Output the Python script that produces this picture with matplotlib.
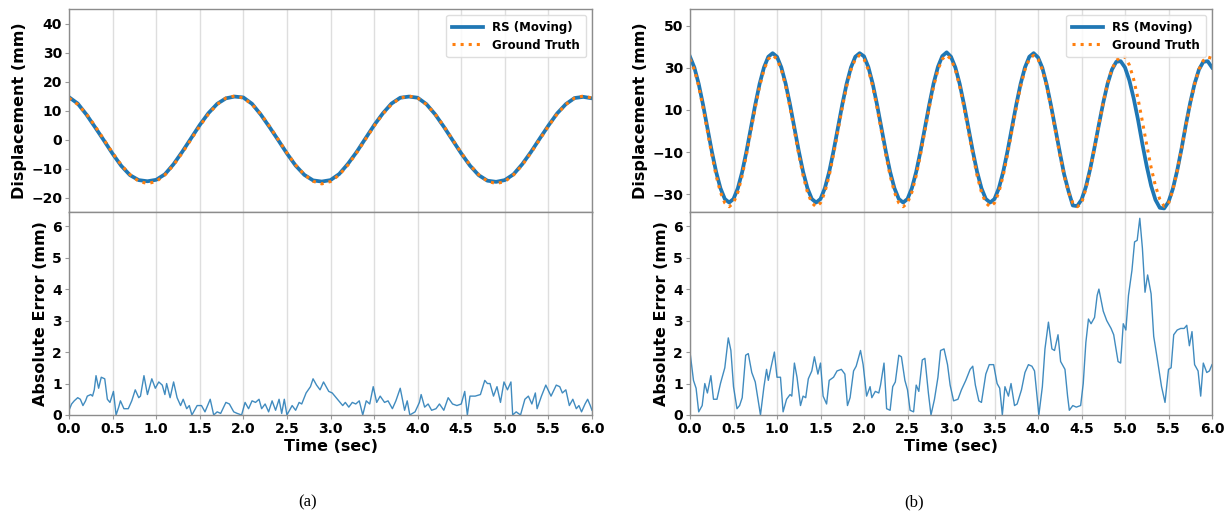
import numpy as np
import matplotlib
matplotlib.use("Agg")
import matplotlib.pyplot as plt

plt.rcParams['font.family'] = ['DejaVu Sans']
plt.rcParams['font.weight'] = 'bold'
plt.rcParams['axes.labelweight'] = 'bold'

# ---------------- data (a) ----------------
time_a = np.round(np.arange(0, 6.0001, 0.1), 2)
gt_a = [14.3, 12.1, 8.8, 4.6, 0.0, -4.6, -8.8, -12.1, -14.4, -15.2,
        -14.5, -12.2, -8.8, -4.6, 0.0, 4.6, 8.8, 12.1, 14.3, 15.0,
        14.3, 12.1, 8.8, 4.6, 0.0, -4.6, -8.8, -12.1, -14.4, -15.3,
        -14.5, -12.2, -8.8, -4.6, 0.0, 4.6, 8.8, 12.1, 14.3, 15.0,
        14.3, 12.1, 8.8, 4.6, 0.0, -4.6, -8.8, -12.1, -14.4, -15.2,
        -14.5, -12.2, -8.8, -4.6, 0.0, 4.6, 8.8, 12.1, 14.3, 15.0, 14.3]
rs_a = [14.6, 12.4, 8.6, 4.2, -0.3, -4.9, -9.1, -12.3, -14.0, -14.4,
        -13.9, -12.0, -8.5, -4.2, 0.4, 5.0, 9.1, 12.3, 14.2, 14.8,
        14.5, 12.3, 8.6, 4.3, -0.2, -4.8, -9.0, -12.2, -14.1, -14.5,
        -14.0, -11.9, -8.4, -4.3, 0.3, 4.9, 9.0, 12.4, 14.4, 14.8,
        14.4, 12.2, 8.7, 4.4, -0.2, -4.8, -9.0, -12.3, -14.2, -14.6,
        -14.0, -12.0, -8.5, -4.3, 0.3, 4.8, 9.0, 12.2, 14.3, 14.7, 14.2]

err_a_t = [0.00, 0.03, 0.06, 0.10, 0.13, 0.16, 0.19, 0.21, 0.25, 0.27, 0.29, 0.31, 0.34,
           0.37, 0.41, 0.44, 0.47, 0.51, 0.54, 0.57, 0.59, 0.63, 0.68, 0.72, 0.76, 0.80,
           0.82, 0.86, 0.90, 0.95, 0.99, 1.03, 1.07, 1.10, 1.12, 1.16, 1.20, 1.24, 1.28,
           1.31, 1.35, 1.38, 1.41, 1.47, 1.52, 1.56, 1.62, 1.66, 1.70, 1.74, 1.80, 1.84,
           1.89, 1.93, 1.98, 2.02, 2.06, 2.10, 2.14, 2.18, 2.21, 2.25, 2.29, 2.33, 2.37,
           2.41, 2.44, 2.47, 2.50, 2.56, 2.60, 2.64, 2.67, 2.72, 2.77, 2.80, 2.84, 2.88,
           2.92, 2.98, 3.02, 3.08, 3.14, 3.17, 3.21, 3.25, 3.29, 3.33, 3.37, 3.41, 3.45,
           3.49, 3.53, 3.57, 3.62, 3.66, 3.71, 3.75, 3.80, 3.85, 3.88, 3.91, 3.97, 4.02,
           4.04, 4.08, 4.12, 4.16, 4.21, 4.25, 4.30, 4.35, 4.40, 4.45, 4.50, 4.54, 4.57,
           4.60, 4.66, 4.72, 4.77, 4.80, 4.83, 4.87, 4.91, 4.95, 4.99, 5.03, 5.07, 5.09,
           5.13, 5.18, 5.23, 5.27, 5.31, 5.35, 5.37, 5.42, 5.47, 5.53, 5.59, 5.63, 5.66,
           5.70, 5.74, 5.78, 5.82, 5.85, 5.88, 5.92, 5.95, 5.98, 6.00]
err_a_v = [0.15, 0.35, 0.45, 0.55, 0.50, 0.30, 0.45, 0.60, 0.65, 0.60, 0.80, 1.25, 0.85,
           1.20, 1.15, 0.50, 0.40, 0.75, 0.00, 0.25, 0.45, 0.20, 0.20, 0.45, 0.80, 0.55,
           0.60, 1.25, 0.65, 1.15, 0.85, 1.05, 0.95, 0.65, 1.00, 0.55, 1.05, 0.55, 0.30,
           0.50, 0.20, 0.30, 0.00, 0.30, 0.30, 0.10, 0.50, 0.00, 0.10, 0.05, 0.40, 0.35,
           0.10, 0.05, 0.00, 0.40, 0.20, 0.45, 0.40, 0.50, 0.20, 0.35, 0.10, 0.45, 0.15,
           0.50, 0.05, 0.50, 0.00, 0.30, 0.15, 0.40, 0.35, 0.70, 0.90, 1.15, 0.95, 0.80,
           1.05, 0.75, 0.70, 0.50, 0.30, 0.40, 0.25, 0.40, 0.35, 0.45, 0.00, 0.45, 0.35,
           0.90, 0.40, 0.60, 0.40, 0.45, 0.20, 0.45, 0.85, 0.15, 0.45, 0.00, 0.10, 0.40,
           0.65, 0.25, 0.35, 0.15, 0.20, 0.35, 0.15, 0.55, 0.35, 0.30, 0.35, 0.75, 0.00,
           0.60, 0.60, 0.65, 1.10, 1.00, 1.00, 0.60, 0.90, 0.40, 1.05, 0.80, 1.05, 0.00,
           0.10, 0.00, 0.50, 0.60, 0.35, 0.70, 0.20, 0.60, 0.95, 0.60, 0.95, 0.90, 0.70,
           0.80, 0.30, 0.50, 0.20, 0.30, 0.10, 0.35, 0.50, 0.30, 0.15]

# ---------------- data (b) ----------------
time_b = np.round(np.arange(0, 6.0001, 0.05), 2)
gt_b = [34.2, 29.1, 21.2, 11.1, 0.0, -11.1, -21.2, -29.1, -34.2, -36.0,
        -34.2, -29.1, -21.2, -11.1, 0.0, 11.1, 21.2, 29.1, 34.2, 36.0,
        34.2, 29.1, 21.2, 11.1, 0.0, -11.1, -21.2, -29.1, -34.2, -36.0,
        -34.2, -29.1, -21.2, -11.1, 0.0, 11.1, 21.2, 29.1, 34.2, 36.0,
        34.2, 29.1, 21.2, 11.1, 0.0, -11.1, -21.2, -29.1, -34.2, -36.0,
        -34.2, -29.1, -21.2, -11.1, 0.0, 11.1, 21.2, 29.1, 34.2, 36.0,
        34.2, 29.1, 21.2, 11.1, 0.0, -11.1, -21.2, -29.1, -34.2, -36.0,
        -34.2, -29.1, -21.2, -11.1, 0.0, 11.1, 21.2, 29.1, 34.2, 36.0,
        34.2, 29.1, 21.2, 11.1, 0.0, -11.1, -21.2, -29.1, -34.2, -36.0,
        -34.5, -27.5, -18.5, -8.0, 3.0, 13.5, 22.8, 29.5, 33.5, 35.3,
        35.2, 31.4, 24.5, 15.3, 4.5, -6.7, -17.3, -26.1, -32.4, -35.8,
        -34.5, -28.0, -19.0, -8.5, 2.5, 13.0, 22.3, 29.3, 33.5, 35.2, 34.5]
rs_b = [35.3, 30.2, 22.4, 12.5, 1.5, -9.5, -19.4, -27.2, -32.3, -34.0,
        -32.3, -27.2, -19.4, -9.5, 1.5, 12.5, 22.4, 30.2, 35.3, 37.0,
        35.3, 30.2, 22.4, 12.5, 1.5, -9.5, -19.4, -27.2, -32.3, -34.0,
        -32.3, -27.2, -19.4, -9.5, 1.5, 12.5, 22.4, 30.2, 35.3, 37.0,
        35.5, 30.4, 22.5, 12.5, 1.5, -9.5, -19.4, -27.2, -32.3, -34.0,
        -32.3, -27.2, -19.4, -9.5, 1.5, 12.5, 22.6, 30.5, 35.6, 37.4,
        35.3, 30.2, 22.4, 12.5, 1.5, -9.5, -19.4, -27.2, -32.3, -34.0,
        -32.3, -27.2, -19.4, -9.5, 1.5, 12.5, 22.4, 30.2, 35.3, 37.0,
        35.0, 30.0, 22.0, 12.0, 1.0, -10.0, -20.5, -28.5, -35.4, -35.7,
        -32.7, -26.6, -18.0, -7.7, 3.1, 13.5, 22.5, 29.2, 32.9, 33.2,
        30.2, 24.1, 15.5, 5.3, -6.2, -16.8, -26.0, -32.7, -36.5, -36.8,
        -33.7, -27.5, -18.8, -8.4, 3.1, 13.5, 22.5, 29.2, 32.9, 33.2, 30.2]

err_b_t = [0.00, 0.04, 0.07, 0.10, 0.14, 0.17, 0.20, 0.24, 0.27, 0.31, 0.35, 0.40, 0.44,
           0.47, 0.50, 0.54, 0.57, 0.60, 0.64, 0.67, 0.71, 0.75, 0.81, 0.85, 0.88, 0.90,
           0.93, 0.97, 1.00, 1.04, 1.07, 1.11, 1.15, 1.17, 1.20, 1.23, 1.27, 1.30, 1.33,
           1.36, 1.40, 1.43, 1.47, 1.50, 1.53, 1.57, 1.60, 1.65, 1.69, 1.74, 1.78, 1.81,
           1.84, 1.88, 1.91, 1.96, 1.99, 2.03, 2.07, 2.09, 2.13, 2.17, 2.19, 2.23, 2.26,
           2.30, 2.33, 2.36, 2.40, 2.43, 2.47, 2.50, 2.53, 2.57, 2.60, 2.63, 2.67, 2.70,
           2.74, 2.77, 2.81, 2.85, 2.88, 2.92, 2.96, 2.99, 3.03, 3.08, 3.12, 3.17, 3.22,
           3.25, 3.28, 3.32, 3.35, 3.40, 3.44, 3.49, 3.53, 3.56, 3.59, 3.62, 3.66, 3.69,
           3.73, 3.76, 3.81, 3.85, 3.89, 3.93, 3.96, 4.01, 4.05, 4.08, 4.12, 4.16, 4.19,
           4.23, 4.26, 4.31, 4.34, 4.36, 4.40, 4.44, 4.49, 4.52, 4.55, 4.58, 4.61, 4.65,
           4.68, 4.70, 4.75, 4.79, 4.84, 4.87, 4.90, 4.92, 4.95, 4.98, 5.01, 5.04, 5.08,
           5.11, 5.14, 5.17, 5.20, 5.23, 5.26, 5.30, 5.33, 5.37, 5.42, 5.46, 5.50, 5.53,
           5.56, 5.60, 5.64, 5.68, 5.71, 5.74, 5.77, 5.80, 5.84, 5.87, 5.90, 5.94, 5.97, 6.00]
err_b_v = [2.00, 1.10, 0.85, 0.10, 0.30, 1.00, 0.70, 1.25, 0.50, 0.50, 1.00, 1.50, 2.45,
           2.05, 0.90, 0.20, 0.30, 0.55, 1.90, 1.95, 1.35, 1.05, 0.00, 0.90, 1.45, 1.10,
           1.50, 2.00, 1.20, 1.20, 0.10, 0.50, 0.65, 0.60, 1.65, 1.20, 0.30, 0.60, 0.55,
           1.15, 1.40, 1.85, 1.30, 1.65, 0.60, 0.35, 1.10, 1.20, 1.40, 1.45, 1.30, 0.30,
           0.55, 1.40, 1.55, 2.05, 1.60, 0.60, 0.90, 0.55, 0.75, 0.70, 0.95, 1.65, 0.20,
           0.15, 0.90, 1.05, 1.90, 1.85, 1.10, 0.80, 0.15, 0.10, 0.95, 0.75, 1.75, 1.80,
           0.70, 0.00, 0.50, 1.20, 2.05, 2.10, 1.60, 0.95, 0.45, 0.50, 0.80, 1.10, 1.45,
           1.55, 0.95, 0.45, 0.40, 1.30, 1.60, 1.60, 1.00, 0.85, 0.00, 0.90, 0.60, 1.00,
           0.30, 0.35, 0.80, 1.35, 1.60, 1.55, 1.40, 0.00, 0.90, 2.10, 2.95, 2.10, 2.05,
           2.55, 1.70, 1.45, 0.60, 0.15, 0.30, 0.25, 0.30, 1.00, 2.30, 3.05, 2.90, 3.10,
           3.80, 4.00, 3.30, 3.00, 2.75, 2.55, 2.05, 1.70, 1.65, 2.90, 2.70, 3.80, 4.60,
           5.50, 5.55, 6.25, 5.30, 3.90, 4.45, 3.85, 2.50, 1.80, 0.90, 0.40, 1.45, 1.50,
           2.55, 2.70, 2.75, 2.75, 2.85, 2.20, 2.65, 1.60, 1.40, 0.60, 1.65, 1.35, 1.40, 1.60]

x_ticks = [0.0, 0.5, 1.0, 1.5, 2.0, 2.5, 3.0, 3.5, 4.0, 4.5, 5.0, 5.5, 6.0]
disp_ticks_a = [-20, -10, 0, 10, 20, 30, 40]
disp_ticks_b = [-30, -10, 10, 30, 50]
err_ticks = [0, 1, 2, 3, 4, 5, 6]

BLUE = '#1f77b4'
ORANGE = '#ff7f0e'
W, H = 1227, 512

fig = plt.figure(figsize=(W / 100, H / 100), dpi=100)


def frac(x0, y0, x1, y1):
    return [x0 / W, 1 - y1 / H, (x1 - x0) / W, (y1 - y0) / H]


def style(ax):
    for s in ax.spines.values():
        s.set_color('0.55')
        s.set_linewidth(1.0)
    ax.tick_params(length=3, width=0.8, color='0.6', pad=2, labelsize=10)
    ax.grid(axis='x', color='0.87', lw=1.0)
    ax.set_axisbelow(True)
    ax.set_xlim(0, 6)
    ax.set_xticks(x_ticks)


panels = [
    (69, 592, time_a, rs_a, gt_a, err_a_t, err_a_v, disp_ticks_a, (-25, 45)),
    (690, 1212, time_b, rs_b, gt_b, err_b_t, err_b_v, disp_ticks_b, (-38.5, 58)),
]

for (x0, x1, tt, rs, gt, et, ev, dticks, dlim) in panels:
    ax1 = fig.add_axes(frac(x0, 9, x1, 212))
    ax2 = fig.add_axes(frac(x0, 212, x1, 415))
    style(ax1)
    style(ax2)
    ax1.plot(tt, rs, color=BLUE, lw=2.7, label='RS (Moving)')
    ax1.plot(tt, gt, color=ORANGE, lw=2.2, ls=':', label='Ground Truth')
    ax1.set_ylim(*dlim)
    ax1.set_yticks(dticks)
    ax1.tick_params(labelbottom=False)
    ax1.set_ylabel('Displacement (mm)', fontsize=11.5, labelpad=3)
    ax1.legend(loc='upper right', fontsize=8.5, framealpha=0.85,
               edgecolor='0.85', handlelength=2.6, borderpad=0.5,
               labelspacing=0.4)
    ax2.plot(et, ev, color=BLUE, lw=1.0, alpha=0.85)
    ax2.set_ylim(0, 6.45)
    ax2.set_yticks(err_ticks)
    ax2.set_ylabel('Absolute Error (mm)', fontsize=11.5, labelpad=3)
    ax2.set_xlabel('Time (sec)', fontsize=11.5, labelpad=2)

fig.text(308 / W, 1 - 502 / H, '(a)', ha='center', va='center',
         family='Liberation Serif', fontweight='normal', fontsize=12)
fig.text(914 / W, 1 - 502 / H, '(b)', ha='center', va='center',
         family='Liberation Serif', fontweight='normal', fontsize=12)

fig.savefig('out.png', dpi=100)
